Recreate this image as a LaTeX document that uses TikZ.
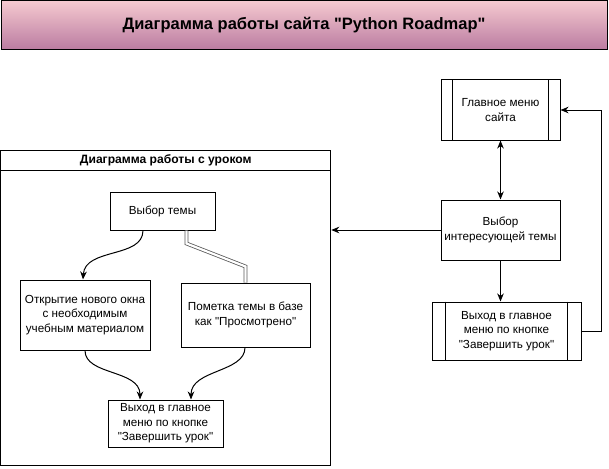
\documentclass[tikz,border=0pt]{standalone}
\usepackage{fontspec}
\newfontfamily\mainf{Liberation Sans}
\usetikzlibrary{arrows.meta}
\definecolor{titletop}{HTML}{F5C9D0}
\definecolor{titlebot}{HTML}{BA7BA0}
\tikzset{
  box/.style={draw, line width=1pt, fill=white, align=center, inner sep=2pt,
    font=\mainf\fontsize{11.7}{14.5}\selectfont},
  conn/.style={line width=1pt, -{Stealth[length=8pt,width=6.5pt,inset=2.5pt]}},
  biconn/.style={line width=1pt, {Stealth[length=8pt,width=6.5pt,inset=2.5pt]}-{Stealth[length=8pt,width=6.5pt,inset=2.5pt]}},
  dline/.style={draw=black!65, line width=0.8pt, double=white, double distance=2.2pt},
}
\begin{document}
\begin{tikzpicture}[x=1pt,y=-1pt]
\useasboundingbox (0,0) rectangle (609,468);
% title
\node (title) [draw, line width=1pt, top color=titletop, bottom color=titlebot,
  minimum width=606pt, minimum height=49pt, inner sep=0pt,
  font=\mainf\fontsize{16.5}{19}\selectfont\bfseries] at (304,25.5)
  {Диаграмма работы сайта "Python Roadmap"};
% swimlane
\node (lane) [draw, line width=1pt, minimum width=330pt, minimum height=315pt, inner sep=0pt] at (165.75,307.5) {};
\node (lanehdr) [draw, line width=1pt, minimum width=330pt, minimum height=20pt, inner sep=0pt,
  font=\mainf\fontsize{12.1}{14}\selectfont\bfseries] at (165.75,160) {Диаграмма работы с уроком};
% right column
\node (menu) [box, minimum width=119pt, minimum height=60pt] at (500.5,110) {Главное меню\\сайта};
\draw[line width=1pt] ([xshift=12pt]menu.north west) -- ([xshift=12pt]menu.south west);
\draw[line width=1pt] ([xshift=-12pt]menu.north east) -- ([xshift=-12pt]menu.south east);
\node (sel) [box, minimum width=119pt, minimum height=60pt] at (500.5,230) {Выбор\\интересующей темы};
\node (exitR) [box, minimum width=149pt, minimum height=58pt] at (506.5,331) {Выход в главное\\меню по кнопке\\"Завершить урок"};
\draw[line width=1pt] ([xshift=14pt]exitR.north west) -- ([xshift=14pt]exitR.south west);
\draw[line width=1pt] ([xshift=-14pt]exitR.north east) -- ([xshift=-14pt]exitR.south east);
% left inside lane
\node (topic) [box, minimum width=105pt, minimum height=38pt] at (162.5,211) {Выбор темы};
\node (open) [box, minimum width=130pt, minimum height=70pt] at (85,315) {Открытие нового окна\\с необходимым\\учебным материалом};
\node (mark) [box, minimum width=129pt, minimum height=64pt] at (245.5,315) {Пометка темы в базе\\как "Просмотрено"};
\node (exitL) [box, minimum width=115pt, minimum height=47pt] at (165.5,423.5) {Выход в главное\\меню по кнопке\\"Завершить урок"};
% connectors right
\draw[biconn] (menu.south) -- (sel.north);
\draw[conn] (sel.south) -- (sel.south |- exitR.north);
\draw[conn] (exitR.east) -- ++(20,0) |- (menu.east);
\draw[conn] (sel.west) -- (sel.west -| lane.east);
% connectors left
\draw[conn] ([xshift=-19.5pt]topic.south) .. controls ([xshift=-19.5pt,yshift=-28pt]topic.south) and ([yshift=32pt]open.north) .. ([xshift=-2pt]open.north);
\draw[dline] ([xshift=24pt]topic.south) -- ([xshift=24pt,yshift=-13pt]topic.south) -- ([yshift=16pt]mark.north) -- (mark.north);
\draw[conn] (open.south) .. controls ([yshift=-25pt]open.south) and ([xshift=-25.5pt,yshift=30pt]exitL.north) .. ([xshift=-25.5pt]exitL.north);
\draw[conn] ([xshift=-0.5pt]mark.south) .. controls ([xshift=-0.5pt,yshift=-25pt]mark.south) and ([xshift=25.5pt,yshift=30pt]exitL.north) .. ([xshift=25.5pt]exitL.north);
\end{tikzpicture}
\end{document}
